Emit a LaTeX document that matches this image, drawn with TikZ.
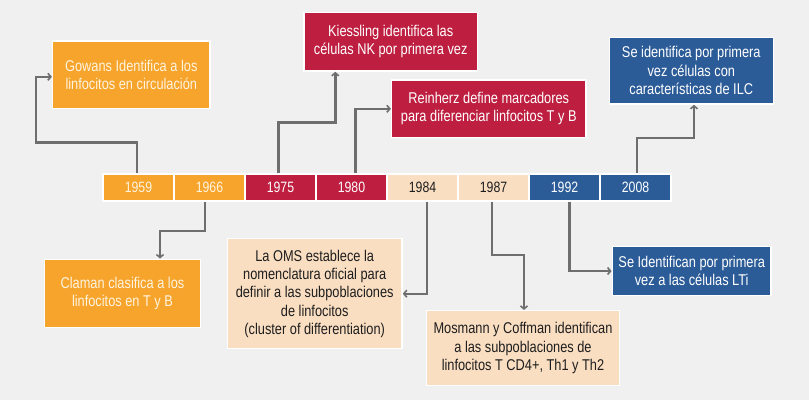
\documentclass[tikz,border=0pt]{standalone}
\usepackage{fontspec}
\setmainfont{Liberation Sans}[FakeStretch=0.82]
\usetikzlibrary{arrows.meta,calc}
\definecolor{bg}{HTML}{F0F0F0}
\definecolor{corange}{HTML}{F6A42B}
\definecolor{ccrimson}{HTML}{BE1F40}
\definecolor{cpeach}{HTML}{FADEC2}
\definecolor{cblue}{HTML}{2C5C98}
\definecolor{cline}{HTML}{6E6E6E}
\definecolor{ctext}{HTML}{1E1E1E}
\definecolor{ccream}{HTML}{FFF4E0}
\tikzset{
  box/.style={rectangle, draw=white, line width=1.5pt, inner sep=0pt, align=center,
    font=\fontsize{15.6pt}{18.3pt}\selectfont},
  ybox/.style={box, minimum width=71pt, minimum height=27pt, font=\fontsize{15pt}{17pt}\selectfont},
  org/.style={fill=corange, text=ccream},
  crm/.style={fill=ccrimson, text=white},
  pch/.style={fill=cpeach, text=ctext},
  blu/.style={fill=cblue, text=white},
  conn/.style={draw=cline, line width=2.4pt, -{Straight Barb[length=3pt,width=7pt,line width=1.6pt]}},
}
\begin{document}
\begin{tikzpicture}[x=1pt,y=-1pt]
\fill[bg] (0,0) rectangle (809,400);
\useasboundingbox (0,0) rectangle (809,400);

% year boxes
\node[ybox,org] (y1959) at (138.5,187.3) {1959};
\node[ybox,org] (y1966) at (209.5,187.3) {1966};
\node[ybox,crm] (y1975) at (280.5,187.3) {1975};
\node[ybox,crm] (y1980) at (351.5,187.3) {1980};
\node[ybox,pch] (y1984) at (422.5,187.3) {1984};
\node[ybox,pch] (y1987) at (493.5,187.3) {1987};
\node[ybox,blu] (y1992) at (564.5,187.3) {1992};
\node[ybox,blu] (y2008) at (635.5,187.3) {2008};

% event boxes
\node[box,org,minimum width=157.3pt,minimum height=67.7pt] (gowans) at (131.3,74.8)
  {Gowans Identifica a los\\linfocitos en circulación};
\node[box,crm,minimum width=173.3pt,minimum height=58.7pt] (kiessling) at (390.7,41.7)
  {Kiessling identifica las\\células NK por primera vez};
\node[box,crm,minimum width=194.3pt,minimum height=57.7pt] (reinherz) at (488.8,108.8)
  {Reinherz define marcadores\\para diferenciar linfocitos T y B};
\node[box,blu,minimum width=164pt,minimum height=66.7pt] (ilc) at (691.3,70.7)
  {Se identifica por primera\\vez células con\\características de ILC};
\node[box,blu,minimum width=158.7pt,minimum height=48.6pt] (lti) at (691.7,271)
  {Se Identifican por primera\\vez a las células LTi};
\node[box,org,minimum width=156.4pt,minimum height=68pt] (claman) at (122.5,293.3)
  {Claman clasifica a los\\linfocitos en T y B};
\node[box,pch,minimum width=174.7pt,minimum height=110pt] (oms) at (314.7,293.7)
  {La OMS establece la\\nomenclatura oficial para\\definir a las subpoblaciones\\de linfocitos\\(cluster of differentiation)};
\node[box,pch,minimum width=192.6pt,minimum height=74.6pt] (mosmann) at (523,348)
  {Mosmann y Coffman identifican\\a las subpoblaciones de\\linfocitos T CD4+, Th1 y Th2};

% connectors
\draw[conn] ([xshift=-1.8pt]y1959.north) -- ++(0,-30.7) -| ([xshift=-16pt,yshift=-2pt]gowans.west) -- ([yshift=-2pt]gowans.west);
\draw[conn] ([xshift=-4.5pt]y1966.south) -- ++(0,29.3) -| ([xshift=37.5pt]claman.north);
\draw[conn] ([xshift=-2.2pt]y1975.north) -- ++(0,-50.7) -| ([xshift=-55.4pt]kiessling.south);
\draw[conn] ([xshift=3.8pt]y1980.north) |- (reinherz.west);
\draw[conn] ([xshift=4.2pt]y1984.south) |- (oms.east);
\draw[conn] ([xshift=-1.5pt]y1987.south) -- ++(0,53.3) -| ([xshift=1pt]mosmann.north);
\draw[conn] ([xshift=4.8pt]y1992.south) |- (lti.west);
\draw[conn] ([xshift=1.2pt]y2008.north) -- ++(0,-35) -| ([xshift=2.7pt]ilc.south);
\end{tikzpicture}
\end{document}
